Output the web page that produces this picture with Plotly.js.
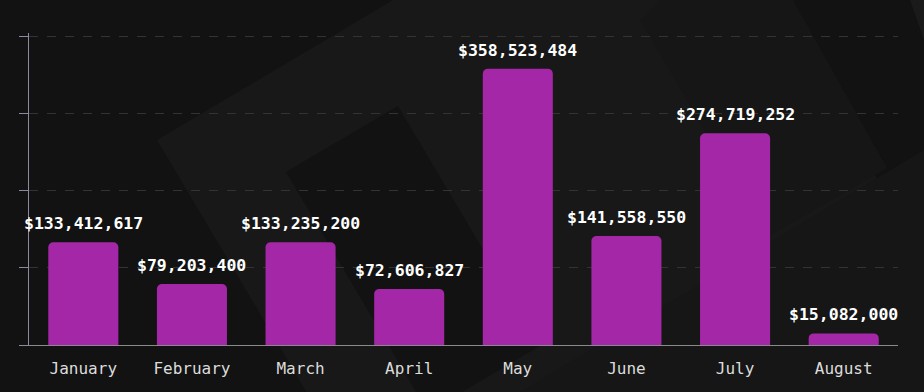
<!DOCTYPE html>
<html>
<head>
<meta charset="utf-8">
<script src="https://cdn.plot.ly/plotly-3.0.1.min.js"></script>
<style>
  html, body { margin: 0; padding: 0; background: #121212; }
  #wrap { position: relative; width: 924px; height: 392px; overflow: hidden; }
  #bg { position: absolute; left: 0; top: 0; }
  #chart { position: absolute; left: 0; top: 0; width: 924px; height: 392px; }
</style>
</head>
<body>
<div id="wrap">
  <svg id="bg" width="924" height="392" xmlns="http://www.w3.org/2000/svg">
    <rect x="0" y="0" width="924" height="392" fill="#121212"/>
    <polygon points="157,140 673,-166 979,350 463,656" fill="#181818"/>
    <polygon points="286,172 398,106 540,346 428,412" fill="#121212"/>
    <polygon points="793,0 887,168 767,237 640,20 700,-40" fill="#161616"/>
    <polygon points="910,0 960,0 960,60 924,40" fill="#1a1a1a"/>
    <polygon points="520,392 924,150 924,392" fill="#161616"/>
  </svg>
  <div id="chart"></div>
</div>
<script>
const months = ["January", "February", "March", "April", "May", "June", "July", "August"];
const revenue = [133412617, 79203400, 133235200, 72606827, 358523484, 141558550, 274719252, 15082000];
const yTicks = [0, 100000000, 200000000, 300000000, 400000000];

const mono = "'DejaVu Sans Mono', 'Liberation Mono', monospace";

const trace = {
  type: "bar",
  x: months,
  y: revenue,
  marker: { color: "#a327a6", cornerradius: 5 },
  hoverinfo: "none"
};

const annotations = months.map((m, i) => ({
  x: m,
  y: revenue[i],
  xref: "x",
  yref: "y",
  text: "$" + revenue[i].toLocaleString("en-US"),
  showarrow: false,
  yanchor: "bottom",
  yshift: 7,
  font: { family: mono, size: 16.5, color: "#ffffff", weight: "bold" }
}));

const layout = {
  width: 924,
  height: 392,
  margin: { l: 29, r: 26, t: 33, b: 47, autoexpand: false },
  paper_bgcolor: "rgba(0,0,0,0)",
  plot_bgcolor: "rgba(0,0,0,0)",
  showlegend: false,
  bargap: 0.355,
  xaxis: {
    type: "category",
    range: [-0.5, months.length - 0.5],
    automargin: false,
    showline: true,
    linecolor: "#8a8a8a",
    linewidth: 1,
    ticks: "",
    showgrid: false,
    zeroline: false,
    ticklabelstandoff: 9,
    tickfont: { family: mono, size: 16, color: "#dcdcdc" },
    fixedrange: true
  },
  yaxis: {
    range: [0, 405000000],
    automargin: false,
    tickvals: yTicks,
    showticklabels: false,
    ticks: "outside",
    ticklen: 9,
    tickcolor: "#8a8aa0",
    showline: true,
    linecolor: "#8a8aa0",
    linewidth: 1,
    showgrid: true,
    gridcolor: "#333333",
    griddash: "dash",
    gridwidth: 1,
    zeroline: false,
    fixedrange: true
  },
  annotations: annotations
};

Plotly.newPlot("chart", [trace], layout, { displayModeBar: false, staticPlot: true });
</script>
</body>
</html>
